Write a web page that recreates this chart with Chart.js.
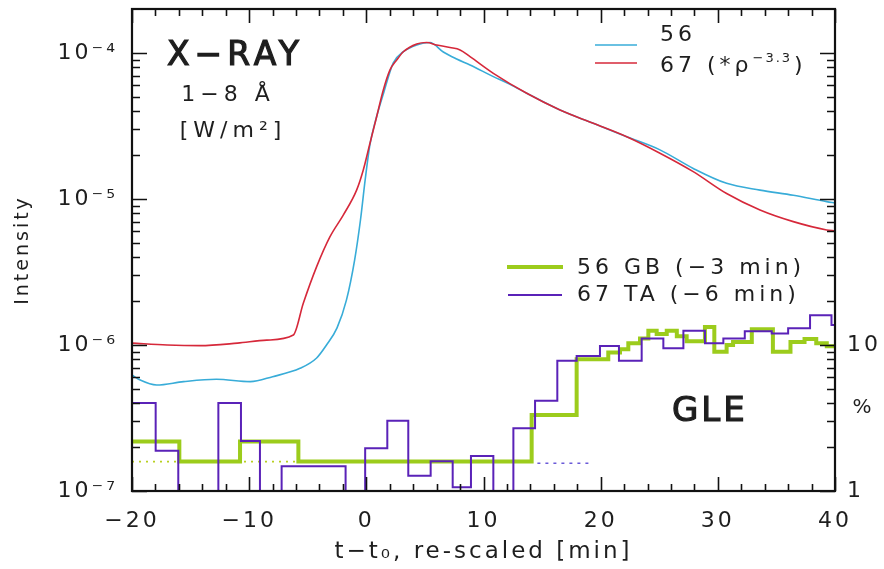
<!DOCTYPE html>
<html><head><meta charset="utf-8">
<script src="https://cdn.jsdelivr.net/npm/chart.js@4.4.1/dist/chart.umd.min.js"></script>
<style>html,body{margin:0;padding:0;background:#fff;}canvas{display:block;}</style>
</head><body>
<canvas id="c" width="884" height="569"></canvas>
<script>
// ---------------- data ----------------
const time56 = [-20, -19.3, -17.9, -15.6, -12.8, -9.9, -8.0, -5.66, -4.24, -3.4, -2.5, -1.7, -1.0, -0.5, -0.1, 0.3, 0.8, 1.5, 2.3, 3.16, 4.3, 5.43, 6.57, 7.71, 8.85, 10.84, 12.26, 13.69, 16.53, 19.37, 22.22, 25.06, 27.9, 30.75, 33.6, 36.44, 39.29, 40];
const xray56 = [6.23e-7, 5.75e-7, 5.32e-7, 5.61e-7, 5.82e-7, 5.61e-7, 6.07e-7, 6.92e-7, 8.15e-7, 1.0e-6, 1.31e-6, 2.03e-6, 3.82e-6, 7.18e-6, 1.35e-5, 2.34e-5, 3.48e-5, 5.41e-5, 8.55e-5, 1.02e-4, 1.135e-4, 1.18e-4, 1.016e-4, 9.1e-5, 8.28e-5, 6.89e-5, 6.1e-5, 5.3e-5, 4.07e-5, 3.3e-5, 2.67e-5, 2.17e-5, 1.62e-5, 1.28e-5, 1.15e-5, 1.06e-5, 9.6e-6, 9.4e-6];

const time67 = [-20, -17, -14.2, -11, -8.5, -6.23, -5.38, -4.24, -3.1, -1.97, -0.83, -0.26, 0.31, 0.88, 1.45, 2.02, 2.59, 3.16, 4.3, 5.15, 6.0, 7.14, 8.0, 8.85, 10.84, 13.69, 16.53, 19.37, 22.22, 25.06, 27.9, 30.75, 33.6, 36.44, 39.29, 40];
const xray67 = [1.03e-6, 1.0e-6, 9.9e-7, 1.03e-6, 1.08e-6, 1.17e-6, 1.93e-6, 3.44e-6, 5.52e-6, 7.76e-6, 1.15e-5, 1.58e-5, 2.41e-5, 3.66e-5, 5.58e-5, 7.66e-5, 8.95e-5, 1.02e-4, 1.153e-4, 1.18e-4, 1.135e-4, 1.09e-4, 1.05e-4, 9.44e-5, 7.26e-5, 5.3e-5, 4.07e-5, 3.3e-5, 2.67e-5, 2.06e-5, 1.54e-5, 1.09e-5, 8.41e-6, 7.0e-6, 6.14e-6, 6.05e-6];

// GLE histograms (%), value holds from each bin start to the next
const binStart56GB = [-20, -15.96, -10.78, -5.8, 14.11, 17.95, 20.65, 21.65, 22.36, 23.36, 24.07, 24.78, 25.64, 26.5, 27.34, 28.9, 29.7, 30.75, 31.3, 32.9, 34.7, 36.2, 37.4, 38.4, 39.3, 40];
const gle56GB = [2.18, 1.59, 2.18, 1.59, 3.32, 8.0, 8.9, 9.35, 10.3, 11.1, 12.5, 11.9, 12.5, 11.5, 10.6, 13.3, 9.0, 10.0, 10.5, 12.8, 9.0, 10.5, 11.0, 10.3, 9.8, 9.8];

const binStart67TA = [-20, -17.98, -16.05, -12.63, -10.7, -9.08, -7.23, -1.77, -0.1, 1.79, 3.58, 5.49, 7.37, 8.93, 10.84, 12.55, 14.4, 16.3, 17.95, 19.94, 21.56, 23.5, 25.35, 27.06, 28.9, 30.47, 32.3, 34.6, 36.0, 37.87, 39.7, 40];
const gle67TA = [4.0, 1.89, 1, 4.0, 2.2, 1, 1.48, 1, 1.96, 3.03, 1.27, 1.6, 1.06, 1.74, 1, 2.69, 4.15, 7.8, 8.4, 9.85, 7.8, 11.1, 9.5, 12.5, 10.3, 11.1, 12.4, 12.0, 13.0, 16.0, 13.7, 13.7];

// background levels (dotted)
const bgTime56GB = [-20, 14.1];
const bgLevel56GB = [1.59, 1.59];
const bgTime67TA = [14.6, 19.1];
const bgLevel67TA = [1.55, 1.55];

// labels
const seriesLabels = ['56', '67 (*ρ−3.3)', '56 GB (−3 min)', '67 TA (−6 min)'];
const xMajorTicks = [-20, -10, 0, 10, 20, 30, 40];
const yDecades = [1e-7, 1e-6, 1e-5, 1e-4];
const yTickLabels = ['10⁻⁷', '10⁻⁶', '10⁻⁵', '10⁻⁴'];
const pctDecades = [1, 10, 100, 1000];
const pctTickValues = [1, 10];
const pctTickLabels = ['1', '10'];
const xTitle = 't−t₀, re-scaled [min]';
const yTitle = 'Intensity';

// ---------------- styles ----------------
const FONT = 'DejaVu Sans';
const INK = '#1e1e1e';
const C_CYAN = '#38acd8';
const C_RED = '#d6283a';
const C_GREEN = '#9ccc1c';
const C_PURPLE = '#5a22b8';
const Y_MIN = 1e-7, Y_MAX = Math.pow(10, -7 + 482 / 146);
const P_MIN = 1, P_MAX = Math.pow(10, 482 / 146);

const pts = (xs, ys) => xs.map((x, i) => ({x: x, y: ys[i]}));
const minus = v => String(v).replace('-', '−');

function logTicks(decades, max) {
  const t = [];
  decades.forEach(d => { for (let m = 1; m <= 9; m++) { const v = d * m; if (v <= max * 0.995) t.push({value: v, major: m === 1}); } });
  return t;
}
function noPad(s) { s.paddingTop = 0; s.paddingBottom = 0; s.paddingLeft = 0; s.paddingRight = 0; }

const decor = {
  id: 'decor',
  beforeDraw(chart) { chart.ctx.letterSpacing = '3px'; },
  afterDatasetsDraw(chart) {
    const ctx = chart.ctx, a = chart.chartArea;
    const sx = chart.scales.x, sy = chart.scales.y, sp = chart.scales.y2;
    ctx.save();
    ctx.strokeStyle = '#111';
    ctx.lineWidth = 1.6;
    ctx.beginPath();
    sx.ticks.forEach(t => {
      const p = Math.round(sx.getPixelForValue(t.value)) + 0.5;
      const len = xMajorTicks.indexOf(t.value) >= 0 ? 14 : 7;
      ctx.moveTo(p, a.bottom); ctx.lineTo(p, a.bottom - len);
      ctx.moveTo(p, a.top); ctx.lineTo(p, a.top + len);
    });
    sy.ticks.forEach(t => {
      const p = Math.round(sy.getPixelForValue(t.value)) + 0.5;
      const len = t.major ? 15 : 8;
      ctx.moveTo(a.left, p); ctx.lineTo(a.left + len, p);
    });
    sp.ticks.forEach(t => {
      const p = Math.round(sp.getPixelForValue(t.value)) + 0.5;
      const len = t.major ? 15 : 8;
      ctx.moveTo(a.right, p); ctx.lineTo(a.right - len, p);
    });
    ctx.stroke();
    ctx.lineWidth = 2.2;
    ctx.strokeRect(a.left, a.top, a.right - a.left, a.bottom - a.top);
    ctx.restore();
  },
  afterDraw(chart) {
    const ctx = chart.ctx;
    const text = (s, x, y, size, ls, align, heavy) => {
      ctx.font = size + 'px "' + FONT + '"';
      ctx.letterSpacing = ls + 'px';
      ctx.textAlign = align || 'left';
      ctx.textBaseline = 'middle';
      ctx.fillStyle = INK;
      ctx.fillText(s, x, y);
      if (heavy) { ctx.strokeStyle = INK; ctx.lineWidth = heavy; ctx.strokeText(s, x, y); }
      return ctx.measureText(s).width;
    };
    const line = (x1, x2, y, color, w) => {
      ctx.beginPath(); ctx.strokeStyle = color; ctx.lineWidth = w;
      ctx.moveTo(x1, y); ctx.lineTo(x2, y); ctx.stroke();
    };
    ctx.save();
    // annotations
    text('X−RAY', 167, 56, 33, 5, 'left', 1.2);
    text('1−8 Å', 228, 95, 22, 5, 'center');
    text('[W/m²]', 233, 131, 22, 5, 'center');
    text('GLE', 672, 412, 34, 3, 'left', 1.2);
    text('%', 863, 408, 20, 2, 'center');
    // legend, top right
    line(595, 637, 45, C_CYAN, 1.6);
    text(seriesLabels[0], 660, 35, 22, 4);
    line(595, 637, 63, C_RED, 1.6);
    let w = text('67 (*ρ', 660, 66, 22, 4);
    w += text('−3.3', 660 + w, 59, 13, 2);
    text(')', 660 + w + 2, 66, 22, 4);
    // legend, GLE
    line(507, 563, 267, C_GREEN, 4);
    text(seriesLabels[2], 577, 268, 22, 4);
    line(508, 562, 295, C_PURPLE, 2);
    text(seriesLabels[3], 577, 295, 22, 4);
    ctx.restore();
  }
};

new Chart(document.getElementById('c'), {
  type: 'line',
  data: {
    datasets: [
      { label: seriesLabels[3], data: pts(binStart67TA, gle67TA), yAxisID: 'y2', stepped: true,
        borderColor: C_PURPLE, borderWidth: 2, pointRadius: 0, fill: false, order: 0 },
      { label: seriesLabels[2], data: pts(binStart56GB, gle56GB), yAxisID: 'y2', stepped: true,
        borderColor: C_GREEN, borderWidth: 4, pointRadius: 0, fill: false, order: 1 },
      { label: 'background 56 GB', data: pts(bgTime56GB, bgLevel56GB), yAxisID: 'y2',
        borderColor: '#b8d020', borderWidth: 1.6, borderDash: [2, 5], pointRadius: 0, order: 2 },
      { label: 'background 67 TA', data: pts(bgTime67TA, bgLevel67TA), yAxisID: 'y2',
        borderColor: '#6a5ad8', borderWidth: 1.6, borderDash: [3, 5], pointRadius: 0, order: 2 },
      { label: seriesLabels[1], data: pts(time67, xray67), yAxisID: 'y',
        borderColor: C_RED, borderWidth: 1.6, pointRadius: 0, cubicInterpolationMode: 'monotone', order: 3 },
      { label: seriesLabels[0], data: pts(time56, xray56), yAxisID: 'y',
        borderColor: C_CYAN, borderWidth: 1.6, pointRadius: 0, cubicInterpolationMode: 'monotone', order: 4 }
    ]
  },
  options: {
    responsive: false,
    animation: false,
    devicePixelRatio: 1,
    layout: { padding: { top: 9, left: 0, right: 0, bottom: 0 } },
    plugins: { legend: { display: false }, tooltip: { enabled: false } },
    scales: {
      x: {
        type: 'linear', position: 'bottom', min: -20, max: 40,
        grid: { display: false, drawTicks: false }, border: { display: false },
        afterBuildTicks: s => { const t = []; for (let v = -20; v <= 40; v += 2) t.push({value: v}); s.ticks = t; },
        afterFit: s => { s.height = 78; noPad(s); },
        ticks: { autoSkip: false, maxRotation: 0, minRotation: 0, padding: 17, color: INK,
                 font: { family: FONT, size: 22 },
                 callback: v => xMajorTicks.indexOf(v) >= 0 ? minus(v) : '' },
        title: { display: true, text: xTitle, color: INK, font: { family: FONT, size: 23 }, padding: { top: 0, bottom: 3 } }
      },
      y: {
        type: 'logarithmic', position: 'left', min: Y_MIN, max: Y_MAX,
        grid: { display: false, drawTicks: false }, border: { display: false },
        afterBuildTicks: s => { s.ticks = logTicks(yDecades, Y_MAX); },
        afterFit: s => { s.width = 132; noPad(s); },
        ticks: { autoSkip: false, padding: 14, color: INK, font: { family: FONT, size: 22 },
                 callback: v => { const i = yDecades.findIndex(d => Math.abs(v / d - 1) < 1e-6); return i >= 0 ? yTickLabels[i] : ''; } },
        title: { display: true, text: yTitle, color: INK, font: { family: FONT, size: 19 }, padding: { top: 12, bottom: 0 } }
      },
      y2: {
        type: 'logarithmic', position: 'right', min: P_MIN, max: P_MAX,
        grid: { display: false, drawTicks: false }, border: { display: false },
        afterBuildTicks: s => { s.ticks = logTicks(pctDecades, P_MAX); },
        afterFit: s => { s.width = 49; noPad(s); },
        ticks: { autoSkip: false, padding: 12, color: INK, font: { family: FONT, size: 22 },
                 callback: v => { const i = pctTickValues.findIndex(d => Math.abs(v / d - 1) < 1e-6); return i >= 0 ? pctTickLabels[i] : ''; } }
      }
    }
  },
  plugins: [decor]
});
</script>
</body></html>
